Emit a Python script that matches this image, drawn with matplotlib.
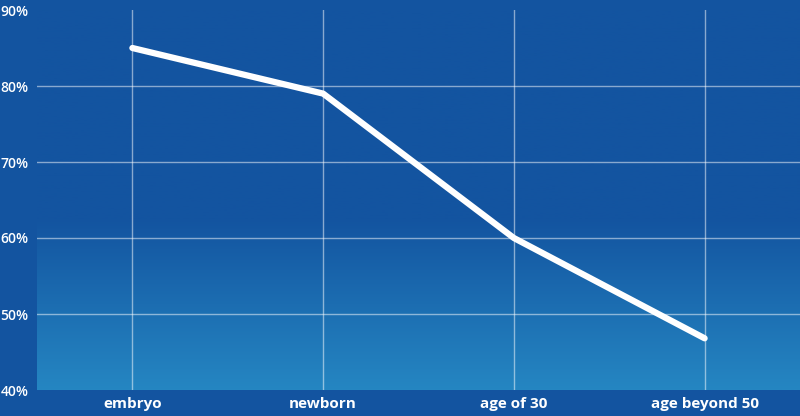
import numpy as np
import matplotlib.pyplot as plt
from matplotlib.colors import LinearSegmentedColormap

stages = ["embryo", "newborn", "age of 30", "age beyond 50"]
share = [85, 79, 60, 46.8]
yticks = [40, 50, 60, 70, 80, 90]

bg = "#1354a0"
bottom = "#2586c2"

fig = plt.figure(figsize=(8, 4.16), dpi=100, facecolor=bg)
ax = fig.add_axes([37 / 800, 26 / 416, 763 / 800, 380 / 416])
ax.set_facecolor(bg)

x = np.arange(len(stages))
ax.set_xlim(-0.5, len(stages) - 0.5)
ax.set_ylim(40, 90)

# gradient fill: flat on top, lighter toward the bottom
cmap = LinearSegmentedColormap.from_list("bg", [(0, bg), (0.55, bg), (1, bottom)])
grad = np.linspace(1, 0, 256).reshape(-1, 1)
ax.imshow(grad, cmap=cmap, aspect="auto", extent=(-0.5, len(stages) - 0.5, 40, 90),
          origin="lower", zorder=0)

for v in yticks[1:-1]:
    ax.axhline(v, color="white", alpha=0.5, lw=1, zorder=1)
for xi in x:
    ax.axvline(xi, color="white", alpha=0.5, lw=1, zorder=1)

ax.plot(x, share, color="white", lw=4.5, solid_capstyle="round",
        solid_joinstyle="round", zorder=3)

ax.set_xticks(x)
ax.set_xticklabels(stages, fontfamily="Open Sans", fontweight="bold", fontsize=11, color="white")
ax.set_yticks(yticks)
ax.set_yticklabels([f"{v}%" for v in yticks], fontfamily="Open Sans", fontsize=10,
                   fontweight="semibold", color="white")
ax.tick_params(length=0)
ax.tick_params(axis="y", pad=6)
ax.tick_params(axis="x", pad=5)
for s in ax.spines.values():
    s.set_visible(False)

fig.savefig("out.png", dpi=100, facecolor=bg)
